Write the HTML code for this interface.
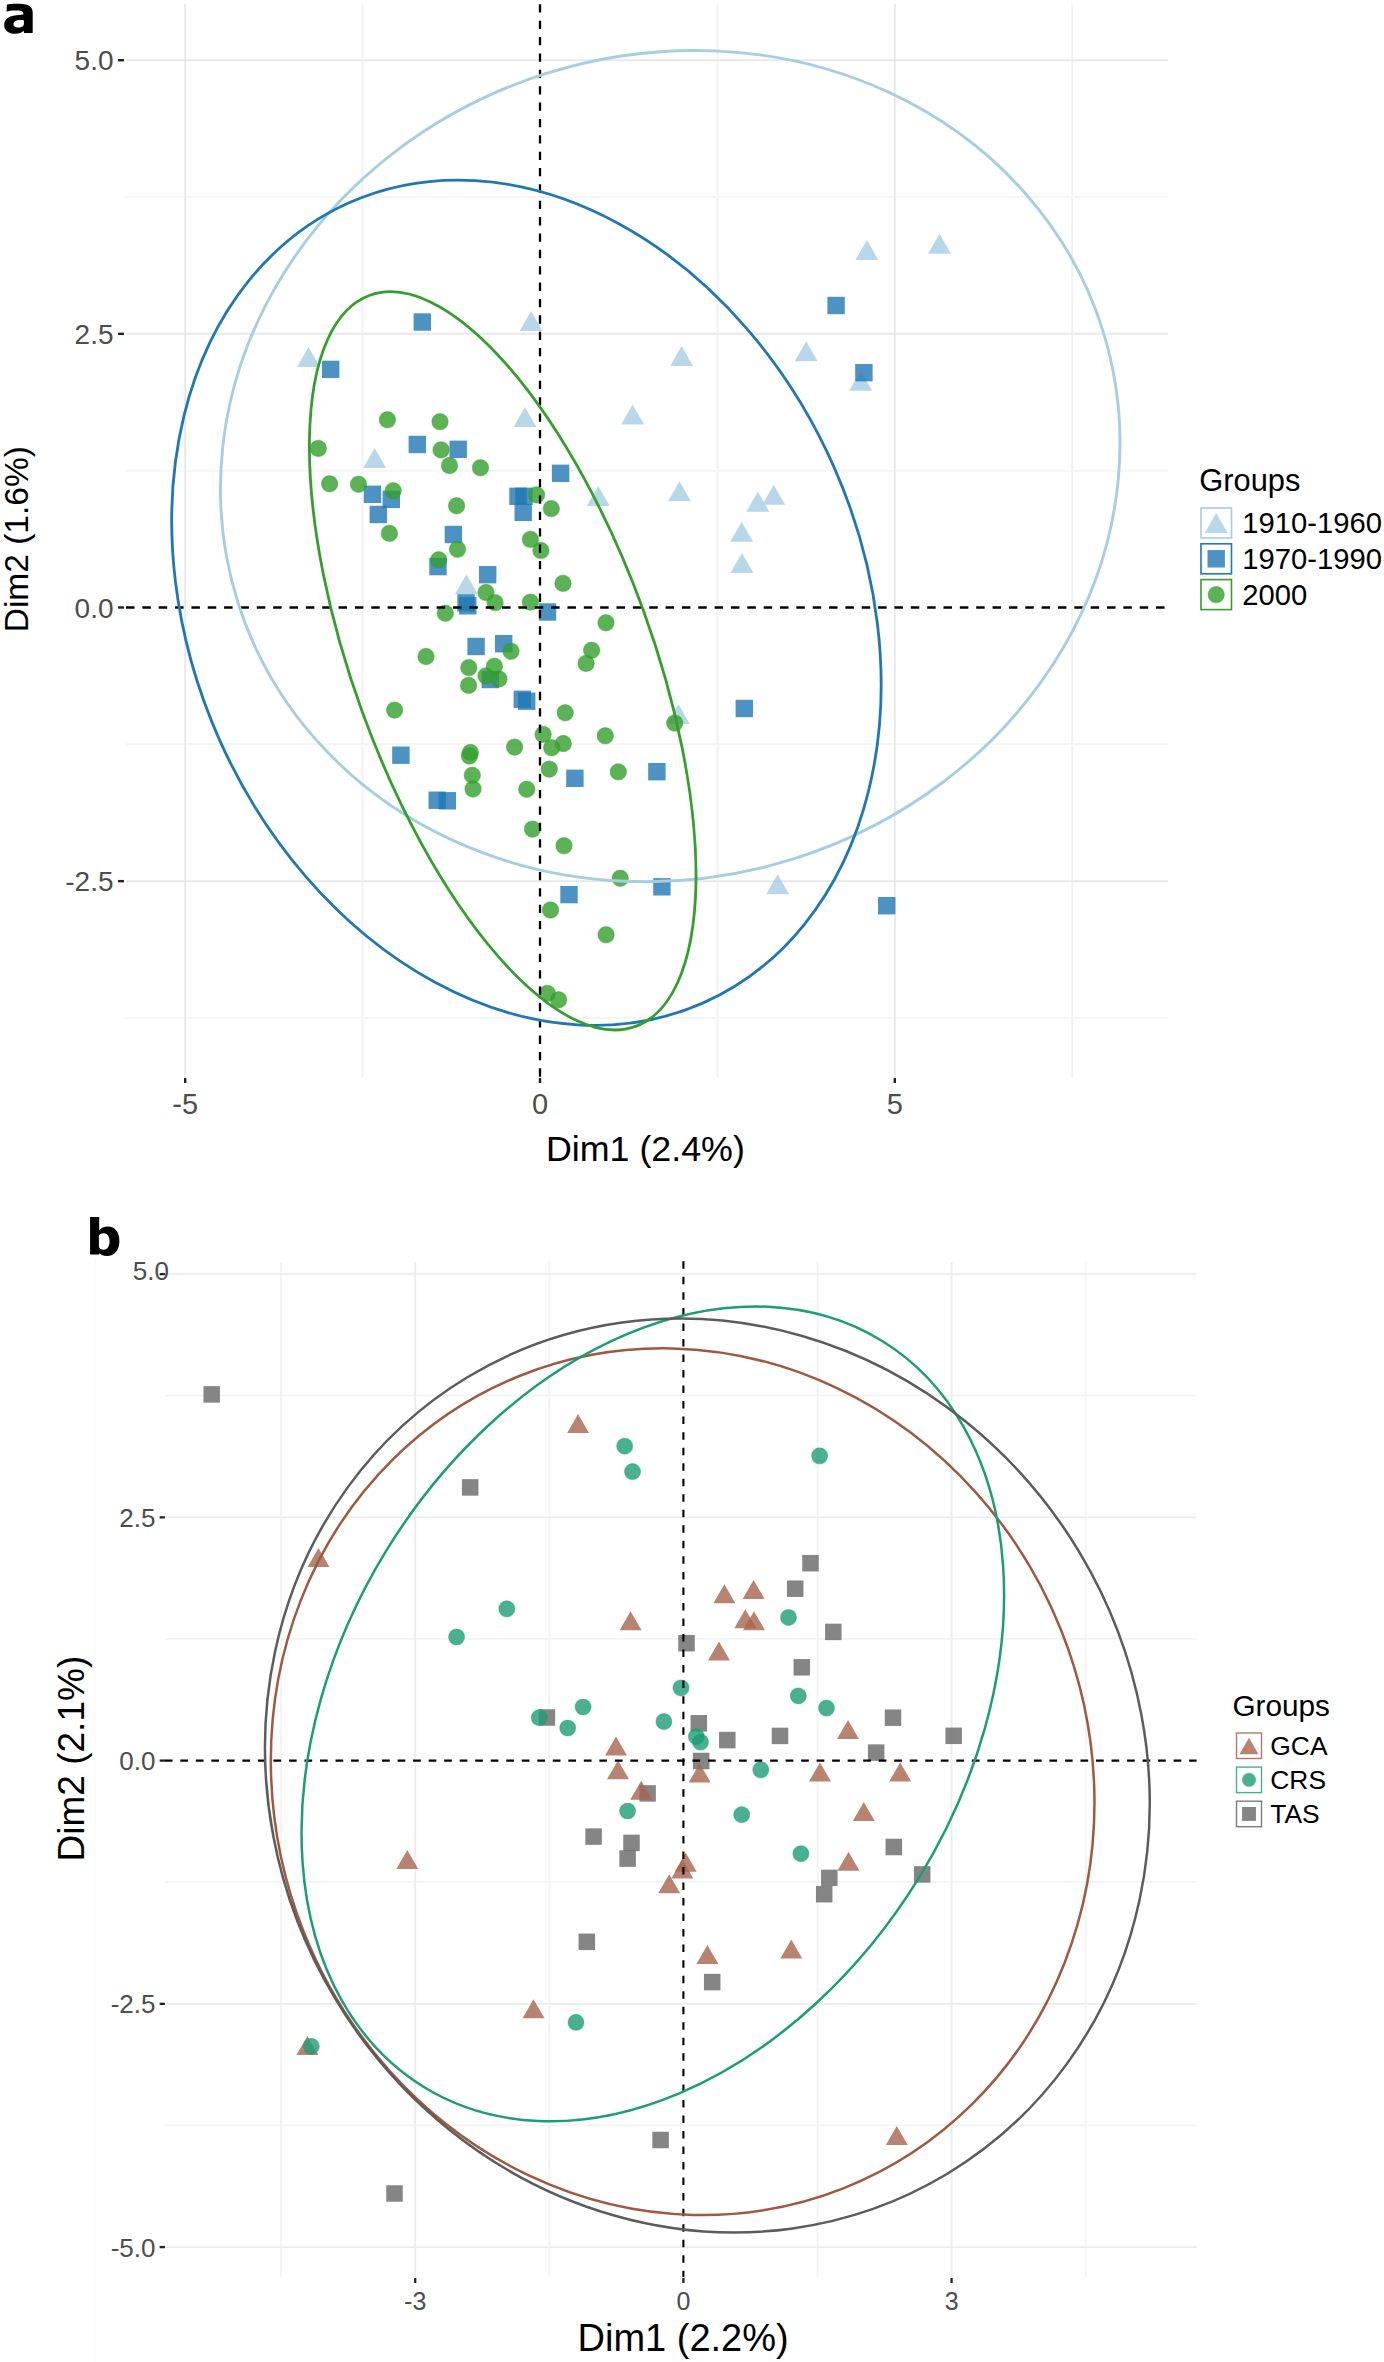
<!DOCTYPE html><html><head><meta charset="utf-8"><style>html,body{margin:0;padding:0;background:#fff}svg{display:block}text{font-family:"Liberation Sans", sans-serif}</style></head><body>
<svg xmlns="http://www.w3.org/2000/svg" width="1384" height="2362" viewBox="0 0 1384 2362">
<rect width="1384" height="2362" fill="#fff"/>
<g stroke-width="2">
<line x1="362.6" y1="4" x2="362.6" y2="1078" stroke="#f2f2f2"/>
<line x1="717.4" y1="4" x2="717.4" y2="1078" stroke="#f2f2f2"/>
<line x1="1072.2" y1="4" x2="1072.2" y2="1078" stroke="#f2f2f2"/>
<line x1="126" y1="1017.97" x2="1168" y2="1017.97" stroke="#f5f5f5"/>
<line x1="126" y1="744.33" x2="1168" y2="744.33" stroke="#f5f5f5"/>
<line x1="126" y1="470.68" x2="1168" y2="470.68" stroke="#f5f5f5"/>
<line x1="126" y1="197.03" x2="1168" y2="197.03" stroke="#f5f5f5"/>
<line x1="185.2" y1="4" x2="185.2" y2="1078" stroke="#e9e9e9"/>
<line x1="894.8" y1="4" x2="894.8" y2="1078" stroke="#e9e9e9"/>
<line x1="126" y1="881.15" x2="1168" y2="881.15" stroke="#e9e9e9"/>
<line x1="126" y1="333.85" x2="1168" y2="333.85" stroke="#e9e9e9"/>
<line x1="126" y1="60.2" x2="1168" y2="60.2" stroke="#e9e9e9"/>
</g>
<path d="M866.9 240.1L878.4 260.1L855.4 260.1Z" fill="#A6CEE3" fill-opacity="0.8"/>
<path d="M939.5 233.8L951 253.8L928 253.8Z" fill="#A6CEE3" fill-opacity="0.8"/>
<path d="M531.1 311L542.6 331L519.6 331Z" fill="#A6CEE3" fill-opacity="0.8"/>
<path d="M308.5 347L320 367L297 367Z" fill="#A6CEE3" fill-opacity="0.8"/>
<path d="M681.6 346L693.1 366L670.1 366Z" fill="#A6CEE3" fill-opacity="0.8"/>
<path d="M806.2 341.2L817.7 361.2L794.7 361.2Z" fill="#A6CEE3" fill-opacity="0.8"/>
<path d="M860.7 370.7L872.2 390.7L849.2 390.7Z" fill="#A6CEE3" fill-opacity="0.8"/>
<path d="M524.9 407L536.4 427L513.4 427Z" fill="#A6CEE3" fill-opacity="0.8"/>
<path d="M632.6 404.5L644.1 424.5L621.1 424.5Z" fill="#A6CEE3" fill-opacity="0.8"/>
<path d="M374.7 448L386.2 468L363.2 468Z" fill="#A6CEE3" fill-opacity="0.8"/>
<path d="M598.3 485.9L609.8 505.9L586.8 505.9Z" fill="#A6CEE3" fill-opacity="0.8"/>
<path d="M679.5 481.2L691 501.2L668 501.2Z" fill="#A6CEE3" fill-opacity="0.8"/>
<path d="M757.8 491.7L769.3 511.7L746.3 511.7Z" fill="#A6CEE3" fill-opacity="0.8"/>
<path d="M773.7 484.8L785.2 504.8L762.2 504.8Z" fill="#A6CEE3" fill-opacity="0.8"/>
<path d="M741.6 521.7L753.1 541.7L730.1 541.7Z" fill="#A6CEE3" fill-opacity="0.8"/>
<path d="M741.9 553L753.4 573L730.4 573Z" fill="#A6CEE3" fill-opacity="0.8"/>
<path d="M466.4 574.3L477.9 594.3L454.9 594.3Z" fill="#A6CEE3" fill-opacity="0.8"/>
<path d="M678.3 704L689.8 724L666.8 724Z" fill="#A6CEE3" fill-opacity="0.8"/>
<path d="M777.7 874.2L789.2 894.2L766.2 894.2Z" fill="#A6CEE3" fill-opacity="0.8"/>
<rect x="413.6" y="313.3" width="17.4" height="17.4" fill="#1F78B4" fill-opacity="0.8"/>
<rect x="827.4" y="296.8" width="17.4" height="17.4" fill="#1F78B4" fill-opacity="0.8"/>
<rect x="322" y="360.7" width="17.4" height="17.4" fill="#1F78B4" fill-opacity="0.8"/>
<rect x="855.2" y="364" width="17.4" height="17.4" fill="#1F78B4" fill-opacity="0.8"/>
<rect x="408.6" y="435.8" width="17.4" height="17.4" fill="#1F78B4" fill-opacity="0.8"/>
<rect x="449.5" y="440.6" width="17.4" height="17.4" fill="#1F78B4" fill-opacity="0.8"/>
<rect x="551.9" y="464.6" width="17.4" height="17.4" fill="#1F78B4" fill-opacity="0.8"/>
<rect x="363.8" y="485.6" width="17.4" height="17.4" fill="#1F78B4" fill-opacity="0.8"/>
<rect x="382.6" y="490.7" width="17.4" height="17.4" fill="#1F78B4" fill-opacity="0.8"/>
<rect x="369.6" y="505.8" width="17.4" height="17.4" fill="#1F78B4" fill-opacity="0.8"/>
<rect x="509.3" y="487.6" width="17.4" height="17.4" fill="#1F78B4" fill-opacity="0.8"/>
<rect x="515.3" y="487.6" width="17.4" height="17.4" fill="#1F78B4" fill-opacity="0.8"/>
<rect x="514.5" y="503.7" width="17.4" height="17.4" fill="#1F78B4" fill-opacity="0.8"/>
<rect x="444.7" y="525.8" width="17.4" height="17.4" fill="#1F78B4" fill-opacity="0.8"/>
<rect x="429.3" y="557.9" width="17.4" height="17.4" fill="#1F78B4" fill-opacity="0.8"/>
<rect x="479" y="566" width="17.4" height="17.4" fill="#1F78B4" fill-opacity="0.8"/>
<rect x="457.3" y="594.2" width="17.4" height="17.4" fill="#1F78B4" fill-opacity="0.8"/>
<rect x="459.1" y="597.1" width="17.4" height="17.4" fill="#1F78B4" fill-opacity="0.8"/>
<rect x="538.8" y="603.3" width="17.4" height="17.4" fill="#1F78B4" fill-opacity="0.8"/>
<rect x="467.4" y="637.8" width="17.4" height="17.4" fill="#1F78B4" fill-opacity="0.8"/>
<rect x="495" y="635" width="17.4" height="17.4" fill="#1F78B4" fill-opacity="0.8"/>
<rect x="481.6" y="670.8" width="17.4" height="17.4" fill="#1F78B4" fill-opacity="0.8"/>
<rect x="513.6" y="690.6" width="17.4" height="17.4" fill="#1F78B4" fill-opacity="0.8"/>
<rect x="518" y="692.5" width="17.4" height="17.4" fill="#1F78B4" fill-opacity="0.8"/>
<rect x="735.6" y="699.8" width="17.4" height="17.4" fill="#1F78B4" fill-opacity="0.8"/>
<rect x="392.2" y="746.5" width="17.4" height="17.4" fill="#1F78B4" fill-opacity="0.8"/>
<rect x="428.5" y="791.5" width="17.4" height="17.4" fill="#1F78B4" fill-opacity="0.8"/>
<rect x="438.6" y="792.1" width="17.4" height="17.4" fill="#1F78B4" fill-opacity="0.8"/>
<rect x="566.2" y="769.6" width="17.4" height="17.4" fill="#1F78B4" fill-opacity="0.8"/>
<rect x="648.2" y="763" width="17.4" height="17.4" fill="#1F78B4" fill-opacity="0.8"/>
<rect x="560.3" y="885.9" width="17.4" height="17.4" fill="#1F78B4" fill-opacity="0.8"/>
<rect x="653.2" y="878.1" width="17.4" height="17.4" fill="#1F78B4" fill-opacity="0.8"/>
<rect x="878" y="897" width="17.4" height="17.4" fill="#1F78B4" fill-opacity="0.8"/>
<circle cx="387.4" cy="419.8" r="8.2" fill="#33A02C" fill-opacity="0.8" stroke="#33A02C" stroke-opacity="0.4" stroke-width="1.2"/>
<circle cx="440" cy="421.8" r="8.2" fill="#33A02C" fill-opacity="0.8" stroke="#33A02C" stroke-opacity="0.4" stroke-width="1.2"/>
<circle cx="318.3" cy="448.4" r="8.2" fill="#33A02C" fill-opacity="0.8" stroke="#33A02C" stroke-opacity="0.4" stroke-width="1.2"/>
<circle cx="441.1" cy="449.9" r="8.2" fill="#33A02C" fill-opacity="0.8" stroke="#33A02C" stroke-opacity="0.4" stroke-width="1.2"/>
<circle cx="449.5" cy="465.5" r="8.2" fill="#33A02C" fill-opacity="0.8" stroke="#33A02C" stroke-opacity="0.4" stroke-width="1.2"/>
<circle cx="480.5" cy="467.8" r="8.2" fill="#33A02C" fill-opacity="0.8" stroke="#33A02C" stroke-opacity="0.4" stroke-width="1.2"/>
<circle cx="329.6" cy="483.8" r="8.2" fill="#33A02C" fill-opacity="0.8" stroke="#33A02C" stroke-opacity="0.4" stroke-width="1.2"/>
<circle cx="358.5" cy="484.2" r="8.2" fill="#33A02C" fill-opacity="0.8" stroke="#33A02C" stroke-opacity="0.4" stroke-width="1.2"/>
<circle cx="393.2" cy="490.7" r="8.2" fill="#33A02C" fill-opacity="0.8" stroke="#33A02C" stroke-opacity="0.4" stroke-width="1.2"/>
<circle cx="456.6" cy="505.8" r="8.2" fill="#33A02C" fill-opacity="0.8" stroke="#33A02C" stroke-opacity="0.4" stroke-width="1.2"/>
<circle cx="536.6" cy="494.9" r="8.2" fill="#33A02C" fill-opacity="0.8" stroke="#33A02C" stroke-opacity="0.4" stroke-width="1.2"/>
<circle cx="551.3" cy="508.6" r="8.2" fill="#33A02C" fill-opacity="0.8" stroke="#33A02C" stroke-opacity="0.4" stroke-width="1.2"/>
<circle cx="389.4" cy="533.4" r="8.2" fill="#33A02C" fill-opacity="0.8" stroke="#33A02C" stroke-opacity="0.4" stroke-width="1.2"/>
<circle cx="457.5" cy="549.2" r="8.2" fill="#33A02C" fill-opacity="0.8" stroke="#33A02C" stroke-opacity="0.4" stroke-width="1.2"/>
<circle cx="438.7" cy="559.7" r="8.2" fill="#33A02C" fill-opacity="0.8" stroke="#33A02C" stroke-opacity="0.4" stroke-width="1.2"/>
<circle cx="530.4" cy="539.4" r="8.2" fill="#33A02C" fill-opacity="0.8" stroke="#33A02C" stroke-opacity="0.4" stroke-width="1.2"/>
<circle cx="540.9" cy="550.5" r="8.2" fill="#33A02C" fill-opacity="0.8" stroke="#33A02C" stroke-opacity="0.4" stroke-width="1.2"/>
<circle cx="563" cy="583.4" r="8.2" fill="#33A02C" fill-opacity="0.8" stroke="#33A02C" stroke-opacity="0.4" stroke-width="1.2"/>
<circle cx="486" cy="592.5" r="8.2" fill="#33A02C" fill-opacity="0.8" stroke="#33A02C" stroke-opacity="0.4" stroke-width="1.2"/>
<circle cx="495.1" cy="602.6" r="8.2" fill="#33A02C" fill-opacity="0.8" stroke="#33A02C" stroke-opacity="0.4" stroke-width="1.2"/>
<circle cx="530.4" cy="602.1" r="8.2" fill="#33A02C" fill-opacity="0.8" stroke="#33A02C" stroke-opacity="0.4" stroke-width="1.2"/>
<circle cx="445.3" cy="613.3" r="8.2" fill="#33A02C" fill-opacity="0.8" stroke="#33A02C" stroke-opacity="0.4" stroke-width="1.2"/>
<circle cx="606" cy="622.7" r="8.2" fill="#33A02C" fill-opacity="0.8" stroke="#33A02C" stroke-opacity="0.4" stroke-width="1.2"/>
<circle cx="426" cy="656.5" r="8.2" fill="#33A02C" fill-opacity="0.8" stroke="#33A02C" stroke-opacity="0.4" stroke-width="1.2"/>
<circle cx="591.6" cy="650.2" r="8.2" fill="#33A02C" fill-opacity="0.8" stroke="#33A02C" stroke-opacity="0.4" stroke-width="1.2"/>
<circle cx="586.1" cy="663.4" r="8.2" fill="#33A02C" fill-opacity="0.8" stroke="#33A02C" stroke-opacity="0.4" stroke-width="1.2"/>
<circle cx="511" cy="651.3" r="8.2" fill="#33A02C" fill-opacity="0.8" stroke="#33A02C" stroke-opacity="0.4" stroke-width="1.2"/>
<circle cx="468.8" cy="667.6" r="8.2" fill="#33A02C" fill-opacity="0.8" stroke="#33A02C" stroke-opacity="0.4" stroke-width="1.2"/>
<circle cx="494.4" cy="666.2" r="8.2" fill="#33A02C" fill-opacity="0.8" stroke="#33A02C" stroke-opacity="0.4" stroke-width="1.2"/>
<circle cx="486" cy="675.9" r="8.2" fill="#33A02C" fill-opacity="0.8" stroke="#33A02C" stroke-opacity="0.4" stroke-width="1.2"/>
<circle cx="499" cy="679" r="8.2" fill="#33A02C" fill-opacity="0.8" stroke="#33A02C" stroke-opacity="0.4" stroke-width="1.2"/>
<circle cx="468.6" cy="685.4" r="8.2" fill="#33A02C" fill-opacity="0.8" stroke="#33A02C" stroke-opacity="0.4" stroke-width="1.2"/>
<circle cx="394.6" cy="710.1" r="8.2" fill="#33A02C" fill-opacity="0.8" stroke="#33A02C" stroke-opacity="0.4" stroke-width="1.2"/>
<circle cx="565.2" cy="712.7" r="8.2" fill="#33A02C" fill-opacity="0.8" stroke="#33A02C" stroke-opacity="0.4" stroke-width="1.2"/>
<circle cx="674.7" cy="723.1" r="8.2" fill="#33A02C" fill-opacity="0.8" stroke="#33A02C" stroke-opacity="0.4" stroke-width="1.2"/>
<circle cx="543.1" cy="734.4" r="8.2" fill="#33A02C" fill-opacity="0.8" stroke="#33A02C" stroke-opacity="0.4" stroke-width="1.2"/>
<circle cx="605.3" cy="735.8" r="8.2" fill="#33A02C" fill-opacity="0.8" stroke="#33A02C" stroke-opacity="0.4" stroke-width="1.2"/>
<circle cx="563.3" cy="743.5" r="8.2" fill="#33A02C" fill-opacity="0.8" stroke="#33A02C" stroke-opacity="0.4" stroke-width="1.2"/>
<circle cx="551.7" cy="747.7" r="8.2" fill="#33A02C" fill-opacity="0.8" stroke="#33A02C" stroke-opacity="0.4" stroke-width="1.2"/>
<circle cx="514.6" cy="747.1" r="8.2" fill="#33A02C" fill-opacity="0.8" stroke="#33A02C" stroke-opacity="0.4" stroke-width="1.2"/>
<circle cx="470.4" cy="752.5" r="8.2" fill="#33A02C" fill-opacity="0.8" stroke="#33A02C" stroke-opacity="0.4" stroke-width="1.2"/>
<circle cx="469.4" cy="756" r="8.2" fill="#33A02C" fill-opacity="0.8" stroke="#33A02C" stroke-opacity="0.4" stroke-width="1.2"/>
<circle cx="549.3" cy="769.1" r="8.2" fill="#33A02C" fill-opacity="0.8" stroke="#33A02C" stroke-opacity="0.4" stroke-width="1.2"/>
<circle cx="618.3" cy="771.9" r="8.2" fill="#33A02C" fill-opacity="0.8" stroke="#33A02C" stroke-opacity="0.4" stroke-width="1.2"/>
<circle cx="472.3" cy="775.2" r="8.2" fill="#33A02C" fill-opacity="0.8" stroke="#33A02C" stroke-opacity="0.4" stroke-width="1.2"/>
<circle cx="473" cy="789" r="8.2" fill="#33A02C" fill-opacity="0.8" stroke="#33A02C" stroke-opacity="0.4" stroke-width="1.2"/>
<circle cx="526.7" cy="789.2" r="8.2" fill="#33A02C" fill-opacity="0.8" stroke="#33A02C" stroke-opacity="0.4" stroke-width="1.2"/>
<circle cx="532.5" cy="829.1" r="8.2" fill="#33A02C" fill-opacity="0.8" stroke="#33A02C" stroke-opacity="0.4" stroke-width="1.2"/>
<circle cx="564" cy="845.8" r="8.2" fill="#33A02C" fill-opacity="0.8" stroke="#33A02C" stroke-opacity="0.4" stroke-width="1.2"/>
<circle cx="620.2" cy="878.3" r="8.2" fill="#33A02C" fill-opacity="0.8" stroke="#33A02C" stroke-opacity="0.4" stroke-width="1.2"/>
<circle cx="550.5" cy="910" r="8.2" fill="#33A02C" fill-opacity="0.8" stroke="#33A02C" stroke-opacity="0.4" stroke-width="1.2"/>
<circle cx="606.1" cy="934.7" r="8.2" fill="#33A02C" fill-opacity="0.8" stroke="#33A02C" stroke-opacity="0.4" stroke-width="1.2"/>
<circle cx="547.4" cy="993.4" r="8.2" fill="#33A02C" fill-opacity="0.8" stroke="#33A02C" stroke-opacity="0.4" stroke-width="1.2"/>
<circle cx="558.6" cy="999.7" r="8.2" fill="#33A02C" fill-opacity="0.8" stroke="#33A02C" stroke-opacity="0.4" stroke-width="1.2"/>
<line x1="126" y1="607.5" x2="1168" y2="607.5" stroke="#000" stroke-width="2.3" stroke-dasharray="8.5 7.85"/>
<line x1="540" y1="4.3" x2="540" y2="1078" stroke="#000" stroke-width="2.3" stroke-dasharray="8.3 8.07"/>
<ellipse cx="670.22" cy="466.06" rx="411.72" ry="453.31" transform="rotate(-107.39 670.22 466.06)" fill="none" stroke="#A6CEE3" stroke-width="2.9"/>
<ellipse cx="526.43" cy="602.71" rx="336.16" ry="437.49" transform="rotate(-23.84 526.43 602.71)" fill="none" stroke="#1F78B4" stroke-width="2.8"/>
<ellipse cx="502.71" cy="660.84" rx="388.96" ry="149.42" transform="rotate(-109.97 502.71 660.84)" fill="none" stroke="#33A02C" stroke-width="2.8"/>
<g stroke="#222" stroke-width="2.4">
<line x1="118" y1="881.15" x2="124" y2="881.15"/>
<line x1="118" y1="607.5" x2="124" y2="607.5"/>
<line x1="118" y1="333.85" x2="124" y2="333.85"/>
<line x1="118" y1="60.2" x2="124" y2="60.2"/>
<line x1="185.2" y1="1078" x2="185.2" y2="1083"/>
<line x1="540" y1="1078" x2="540" y2="1083"/>
<line x1="894.8" y1="1078" x2="894.8" y2="1083"/>
</g>
<g fill="#4d4d4d" font-size="28">
<text x="113.5" y="891.35" text-anchor="end">-2.5</text>
<text x="113.5" y="617.7" text-anchor="end">0.0</text>
<text x="113.5" y="344.05" text-anchor="end">2.5</text>
<text x="113.5" y="70.4" text-anchor="end">5.0</text>
<text x="185.2" y="1113.6" text-anchor="middle" font-size="29">-5</text>
<text x="540" y="1113.6" text-anchor="middle" font-size="29">0</text>
<text x="894.8" y="1113.6" text-anchor="middle" font-size="29">5</text>
</g>
<text x="645.4" y="1161.4" font-size="35.8" text-anchor="middle" fill="#000">Dim1 (2.4%)</text>
<text transform="translate(27.5 539.2) rotate(-90)" font-size="33.5" text-anchor="middle" fill="#000">Dim2 (1.6%)</text>
<text x="1199.3" y="491.3" font-size="30.8" fill="#000">Groups</text>
<rect x="1201" y="508" width="30.5" height="30" fill="#fff" stroke="#A6CEE3" stroke-width="1.6"/>
<path d="M1216.2 513L1227.7 533L1204.7 533Z" fill="#A6CEE3" fill-opacity="0.8"/>
<text x="1242.3" y="533.3" font-size="29.2" fill="#000">1910-1960</text>
<rect x="1201" y="543.8" width="30.5" height="30" fill="#fff" stroke="#1F78B4" stroke-width="1.6"/>
<rect x="1207.5" y="550.1" width="17.4" height="17.4" fill="#1F78B4" fill-opacity="0.8"/>
<text x="1242.3" y="569.1" font-size="29.2" fill="#000">1970-1990</text>
<rect x="1201" y="579.6" width="30.5" height="30" fill="#fff" stroke="#33A02C" stroke-width="1.6"/>
<circle cx="1216.2" cy="594.6" r="8.2" fill="#33A02C" fill-opacity="0.8" stroke="#33A02C" stroke-opacity="0.4" stroke-width="1.2"/>
<text x="1242.3" y="604.9" font-size="29.2" fill="#000">2000</text>
<path fill="#000" fill-rule="evenodd" d="M6.9 4.9C7.5 4.1 12 3.8 16.7 3.8C22 3.8 27 4 29.8 6.3C31.8 8 32.7 10 32.7 12.5L32.7 33.1L24.1 33.1L23.6 30.8C22 32.6 19.2 33.8 15.2 33.8C8.8 33.8 4.2 30.6 4.2 25C4.2 19.3 8.5 16.4 14.5 15.5L23.4 14.4C23.5 12 22 10.6 18.5 10.5C15 10.4 11 10.3 9.8 10.8C8.5 11.2 7.5 11.5 6.6 11.4Z M23.9 20.4C22.5 20 19.5 20 17.5 20.3C14.8 20.8 13.4 22.3 13.4 24C13.4 26 15 27.6 18 27.6C21 27.6 23.9 26.5 23.9 24Z"/>
<line x1="95" y1="1258" x2="95" y2="2362" stroke="#f8f8f8" stroke-width="1.5"/>
<g stroke-width="1.8">
<line x1="281.1" y1="1262" x2="281.1" y2="2277" stroke="#f3f3f3"/>
<line x1="549.3" y1="1262" x2="549.3" y2="2277" stroke="#f3f3f3"/>
<line x1="817.5" y1="1262" x2="817.5" y2="2277" stroke="#f3f3f3"/>
<line x1="1085.7" y1="1262" x2="1085.7" y2="2277" stroke="#f3f3f3"/>
<line x1="165" y1="2125.47" x2="1196.6" y2="2125.47" stroke="#f3f3f3"/>
<line x1="165" y1="1882.22" x2="1196.6" y2="1882.22" stroke="#f3f3f3"/>
<line x1="165" y1="1638.97" x2="1196.6" y2="1638.97" stroke="#f3f3f3"/>
<line x1="165" y1="1395.72" x2="1196.6" y2="1395.72" stroke="#f3f3f3"/>
<line x1="415.2" y1="1262" x2="415.2" y2="2277" stroke="#ececec"/>
<line x1="951.6" y1="1262" x2="951.6" y2="2277" stroke="#ececec"/>
<line x1="165" y1="2247.1" x2="1196.6" y2="2247.1" stroke="#ececec"/>
<line x1="165" y1="2003.85" x2="1196.6" y2="2003.85" stroke="#ececec"/>
<line x1="165" y1="1517.35" x2="1196.6" y2="1517.35" stroke="#ececec"/>
<line x1="165" y1="1274.1" x2="1196.6" y2="1274.1" stroke="#ececec"/>
</g>
<rect x="203.45" y="1386.15" width="16.5" height="16.5" fill="#666666" fill-opacity="0.8"/>
<rect x="461.95" y="1479.15" width="16.5" height="16.5" fill="#666666" fill-opacity="0.8"/>
<rect x="802.25" y="1554.95" width="16.5" height="16.5" fill="#666666" fill-opacity="0.8"/>
<rect x="945.45" y="1727.55" width="16.5" height="16.5" fill="#666666" fill-opacity="0.8"/>
<rect x="884.75" y="1709.45" width="16.5" height="16.5" fill="#666666" fill-opacity="0.8"/>
<rect x="786.95" y="1580.45" width="16.5" height="16.5" fill="#666666" fill-opacity="0.8"/>
<rect x="825.05" y="1623.65" width="16.5" height="16.5" fill="#666666" fill-opacity="0.8"/>
<rect x="678.25" y="1634.95" width="16.5" height="16.5" fill="#666666" fill-opacity="0.8"/>
<rect x="793.55" y="1659.05" width="16.5" height="16.5" fill="#666666" fill-opacity="0.8"/>
<rect x="690.55" y="1715.05" width="16.5" height="16.5" fill="#666666" fill-opacity="0.8"/>
<rect x="719.05" y="1731.85" width="16.5" height="16.5" fill="#666666" fill-opacity="0.8"/>
<rect x="771.75" y="1727.65" width="16.5" height="16.5" fill="#666666" fill-opacity="0.8"/>
<rect x="867.95" y="1744.35" width="16.5" height="16.5" fill="#666666" fill-opacity="0.8"/>
<rect x="692.95" y="1752.75" width="16.5" height="16.5" fill="#666666" fill-opacity="0.8"/>
<rect x="885.55" y="1838.75" width="16.5" height="16.5" fill="#666666" fill-opacity="0.8"/>
<rect x="538.65" y="1709.25" width="16.5" height="16.5" fill="#666666" fill-opacity="0.8"/>
<rect x="639.35" y="1785.15" width="16.5" height="16.5" fill="#666666" fill-opacity="0.8"/>
<rect x="585.35" y="1828.35" width="16.5" height="16.5" fill="#666666" fill-opacity="0.8"/>
<rect x="623.25" y="1834.65" width="16.5" height="16.5" fill="#666666" fill-opacity="0.8"/>
<rect x="619.35" y="1850.35" width="16.5" height="16.5" fill="#666666" fill-opacity="0.8"/>
<rect x="386.25" y="2185.25" width="16.5" height="16.5" fill="#666666" fill-opacity="0.8"/>
<rect x="578.55" y="1933.55" width="16.5" height="16.5" fill="#666666" fill-opacity="0.8"/>
<rect x="703.95" y="1973.85" width="16.5" height="16.5" fill="#666666" fill-opacity="0.8"/>
<rect x="652.35" y="2131.75" width="16.5" height="16.5" fill="#666666" fill-opacity="0.8"/>
<rect x="821.05" y="1869.65" width="16.5" height="16.5" fill="#666666" fill-opacity="0.8"/>
<rect x="815.95" y="1885.95" width="16.5" height="16.5" fill="#666666" fill-opacity="0.8"/>
<rect x="913.95" y="1866.15" width="16.5" height="16.5" fill="#666666" fill-opacity="0.8"/>
<path d="M318.5 1548.1L329.5 1567.1L307.5 1567.1Z" fill="#A7644F" fill-opacity="0.8"/>
<path d="M578.1 1413.9L589.1 1432.9L567.1 1432.9Z" fill="#A7644F" fill-opacity="0.8"/>
<path d="M724.4 1584.2L735.4 1603.2L713.4 1603.2Z" fill="#A7644F" fill-opacity="0.8"/>
<path d="M753.6 1579.9L764.6 1598.9L742.6 1598.9Z" fill="#A7644F" fill-opacity="0.8"/>
<path d="M745.3 1609.15L756.3 1628.15L734.3 1628.15Z" fill="#A7644F" fill-opacity="0.8"/>
<path d="M754 1611.3L765 1630.3L743 1630.3Z" fill="#A7644F" fill-opacity="0.8"/>
<path d="M719 1641.55L730 1660.55L708 1660.55Z" fill="#A7644F" fill-opacity="0.8"/>
<path d="M848 1720.1L859 1739.1L837 1739.1Z" fill="#A7644F" fill-opacity="0.8"/>
<path d="M699.7 1763.5L710.7 1782.5L688.7 1782.5Z" fill="#A7644F" fill-opacity="0.8"/>
<path d="M820 1762.4L831 1781.4L809 1781.4Z" fill="#A7644F" fill-opacity="0.8"/>
<path d="M900.2 1762.4L911.2 1781.4L889.2 1781.4Z" fill="#A7644F" fill-opacity="0.8"/>
<path d="M863.8 1802.1L874.8 1821.1L852.8 1821.1Z" fill="#A7644F" fill-opacity="0.8"/>
<path d="M630.6 1611.3L641.6 1630.3L619.6 1630.3Z" fill="#A7644F" fill-opacity="0.8"/>
<path d="M616 1736.4L627 1755.4L605 1755.4Z" fill="#A7644F" fill-opacity="0.8"/>
<path d="M618 1760.35L629 1779.35L607 1779.35Z" fill="#A7644F" fill-opacity="0.8"/>
<path d="M641.2 1780.8L652.2 1799.8L630.2 1799.8Z" fill="#A7644F" fill-opacity="0.8"/>
<path d="M407.3 1849.95L418.3 1868.95L396.3 1868.95Z" fill="#A7644F" fill-opacity="0.8"/>
<path d="M307.4 2036.1L318.4 2055.1L296.4 2055.1Z" fill="#A7644F" fill-opacity="0.8"/>
<path d="M685.7 1852.75L696.7 1871.75L674.7 1871.75Z" fill="#A7644F" fill-opacity="0.8"/>
<path d="M682.3 1859.6L693.3 1878.6L671.3 1878.6Z" fill="#A7644F" fill-opacity="0.8"/>
<path d="M669.2 1874.2L680.2 1893.2L658.2 1893.2Z" fill="#A7644F" fill-opacity="0.8"/>
<path d="M707.4 1945.1L718.4 1964.1L696.4 1964.1Z" fill="#A7644F" fill-opacity="0.8"/>
<path d="M533.5 1999.3L544.5 2018.3L522.5 2018.3Z" fill="#A7644F" fill-opacity="0.8"/>
<path d="M848.5 1851.7L859.5 1870.7L837.5 1870.7Z" fill="#A7644F" fill-opacity="0.8"/>
<path d="M791.3 1939.45L802.3 1958.45L780.3 1958.45Z" fill="#A7644F" fill-opacity="0.8"/>
<path d="M896.8 2126.1L907.8 2145.1L885.8 2145.1Z" fill="#A7644F" fill-opacity="0.8"/>
<circle cx="456.6" cy="1637" r="8" fill="#1B9E77" fill-opacity="0.8" stroke="#1B9E77" stroke-opacity="0.4" stroke-width="1.2"/>
<circle cx="624.7" cy="1446.2" r="8" fill="#1B9E77" fill-opacity="0.8" stroke="#1B9E77" stroke-opacity="0.4" stroke-width="1.2"/>
<circle cx="632.5" cy="1471.6" r="8" fill="#1B9E77" fill-opacity="0.8" stroke="#1B9E77" stroke-opacity="0.4" stroke-width="1.2"/>
<circle cx="819.6" cy="1455.8" r="8" fill="#1B9E77" fill-opacity="0.8" stroke="#1B9E77" stroke-opacity="0.4" stroke-width="1.2"/>
<circle cx="788.5" cy="1617.4" r="8" fill="#1B9E77" fill-opacity="0.8" stroke="#1B9E77" stroke-opacity="0.4" stroke-width="1.2"/>
<circle cx="681" cy="1687.9" r="8" fill="#1B9E77" fill-opacity="0.8" stroke="#1B9E77" stroke-opacity="0.4" stroke-width="1.2"/>
<circle cx="798.3" cy="1695.9" r="8" fill="#1B9E77" fill-opacity="0.8" stroke="#1B9E77" stroke-opacity="0.4" stroke-width="1.2"/>
<circle cx="826.5" cy="1708.1" r="8" fill="#1B9E77" fill-opacity="0.8" stroke="#1B9E77" stroke-opacity="0.4" stroke-width="1.2"/>
<circle cx="663.9" cy="1721.5" r="8" fill="#1B9E77" fill-opacity="0.8" stroke="#1B9E77" stroke-opacity="0.4" stroke-width="1.2"/>
<circle cx="696.4" cy="1736.7" r="8" fill="#1B9E77" fill-opacity="0.8" stroke="#1B9E77" stroke-opacity="0.4" stroke-width="1.2"/>
<circle cx="700.5" cy="1742.1" r="8" fill="#1B9E77" fill-opacity="0.8" stroke="#1B9E77" stroke-opacity="0.4" stroke-width="1.2"/>
<circle cx="760.8" cy="1769.8" r="8" fill="#1B9E77" fill-opacity="0.8" stroke="#1B9E77" stroke-opacity="0.4" stroke-width="1.2"/>
<circle cx="741.7" cy="1814.7" r="8" fill="#1B9E77" fill-opacity="0.8" stroke="#1B9E77" stroke-opacity="0.4" stroke-width="1.2"/>
<circle cx="800.9" cy="1853.7" r="8" fill="#1B9E77" fill-opacity="0.8" stroke="#1B9E77" stroke-opacity="0.4" stroke-width="1.2"/>
<circle cx="506.8" cy="1608.8" r="8" fill="#1B9E77" fill-opacity="0.8" stroke="#1B9E77" stroke-opacity="0.4" stroke-width="1.2"/>
<circle cx="539.3" cy="1717.6" r="8" fill="#1B9E77" fill-opacity="0.8" stroke="#1B9E77" stroke-opacity="0.4" stroke-width="1.2"/>
<circle cx="583.1" cy="1707" r="8" fill="#1B9E77" fill-opacity="0.8" stroke="#1B9E77" stroke-opacity="0.4" stroke-width="1.2"/>
<circle cx="567.7" cy="1728" r="8" fill="#1B9E77" fill-opacity="0.8" stroke="#1B9E77" stroke-opacity="0.4" stroke-width="1.2"/>
<circle cx="627.6" cy="1811" r="8" fill="#1B9E77" fill-opacity="0.8" stroke="#1B9E77" stroke-opacity="0.4" stroke-width="1.2"/>
<circle cx="311.3" cy="2046.3" r="8" fill="#1B9E77" fill-opacity="0.8" stroke="#1B9E77" stroke-opacity="0.4" stroke-width="1.2"/>
<circle cx="576" cy="2022.3" r="8" fill="#1B9E77" fill-opacity="0.8" stroke="#1B9E77" stroke-opacity="0.4" stroke-width="1.2"/>
<line x1="164.8" y1="1760.6" x2="1196.6" y2="1760.6" stroke="#000" stroke-width="2.2" stroke-dasharray="7.7 7.82"/>
<line x1="683.4" y1="1261.3" x2="683.4" y2="2277" stroke="#000" stroke-width="2.1" stroke-dasharray="7.5 8.03"/>
<ellipse cx="682.65" cy="1781.64" rx="407.65" ry="437.27" transform="rotate(-21.65 682.65 1781.64)" fill="none" stroke="#A0583F" stroke-width="2.5"/>
<ellipse cx="652.82" cy="1713.87" rx="312.56" ry="437.74" transform="rotate(-148.46 652.82 1713.87)" fill="none" stroke="#1B9E77" stroke-width="2.5"/>
<ellipse cx="707.35" cy="1775.49" rx="433.91" ry="464.97" transform="rotate(-30.95 707.35 1775.49)" fill="none" stroke="#5C5C5C" stroke-width="2.5"/>
<g stroke="#222" stroke-width="2.3">
<line x1="159.6" y1="2247.1" x2="164.9" y2="2247.1"/>
<line x1="159.6" y1="2003.85" x2="164.9" y2="2003.85"/>
<line x1="159.6" y1="1760.6" x2="164.9" y2="1760.6"/>
<line x1="159.6" y1="1517.35" x2="164.9" y2="1517.35"/>
<line x1="159.6" y1="1274.1" x2="164.9" y2="1274.1"/>
<line x1="415.2" y1="2278" x2="415.2" y2="2283"/>
<line x1="683.4" y1="2278" x2="683.4" y2="2283"/>
<line x1="951.6" y1="2278" x2="951.6" y2="2283"/>
</g>
<g fill="#4d4d4d" font-size="26">
<text x="155.5" y="2256.5" text-anchor="end">-5.0</text>
<text x="155.5" y="2013.25" text-anchor="end">-2.5</text>
<text x="155.5" y="1770" text-anchor="end">0.0</text>
<text x="155.5" y="1526.75" text-anchor="end">2.5</text>
<text x="169" y="1279.8" text-anchor="end">5.0</text>
</g>
<g fill="#4d4d4d" font-size="25">
<text x="415.2" y="2309.9" text-anchor="middle">-3</text>
<text x="683.4" y="2309.9" text-anchor="middle">0</text>
<text x="951.6" y="2309.9" text-anchor="middle">3</text>
</g>
<text x="683.1" y="2350.5" font-size="38" text-anchor="middle" fill="#000">Dim1 (2.2%)</text>
<text transform="translate(83.7 1758.6) rotate(-90)" font-size="37" text-anchor="middle" fill="#000">Dim2 (2.1%)</text>
<text x="1232.4" y="1715.5" font-size="29.75" fill="#000">Groups</text>
<rect x="1236.5" y="1733" width="25" height="25.5" fill="#fff" stroke="#A0583F" stroke-opacity="0.8" stroke-width="1.4"/>
<path d="M1249 1737.75L1258.5 1754.35L1239.5 1754.35Z" fill="#A7644F" fill-opacity="0.8"/>
<text x="1270.3" y="1755.2" font-size="26.4" fill="#000">GCA</text>
<rect x="1236.5" y="1767.1" width="25" height="25.5" fill="#fff" stroke="#1B9E77" stroke-opacity="0.8" stroke-width="1.4"/>
<circle cx="1249" cy="1779.85" r="6.65" fill="#1B9E77" fill-opacity="0.8" stroke="#1B9E77" stroke-opacity="0.4" stroke-width="1.2"/>
<text x="1270.3" y="1789.3" font-size="26.4" fill="#000">CRS</text>
<rect x="1236.5" y="1801.2" width="25" height="25.5" fill="#fff" stroke="#5C5C5C" stroke-opacity="0.8" stroke-width="1.4"/>
<rect x="1242.05" y="1807" width="13.9" height="13.9" fill="#666666" fill-opacity="0.8"/>
<text x="1270.3" y="1823.4" font-size="26.4" fill="#000">TAS</text>
<path fill="#000" fill-rule="evenodd" d="M90.1 1217L99.2 1217L99.2 1230.5C101 1228 104 1226.5 108 1226.5C115 1226.5 119.4 1232 119.4 1241C119.4 1250 114.5 1256 107 1256C103.5 1256 100.8 1254.8 99.5 1253.2L99.2 1254.6L90.1 1254.6Z M98.9 1236C98.9 1234.2 101 1233.2 103.8 1233.2C107.5 1233.2 109.6 1236.5 109.6 1241.2C109.6 1246 107.5 1249.7 103.8 1249.7C101 1249.7 98.9 1248.5 98.9 1246.5Z"/>
</svg></body></html>
